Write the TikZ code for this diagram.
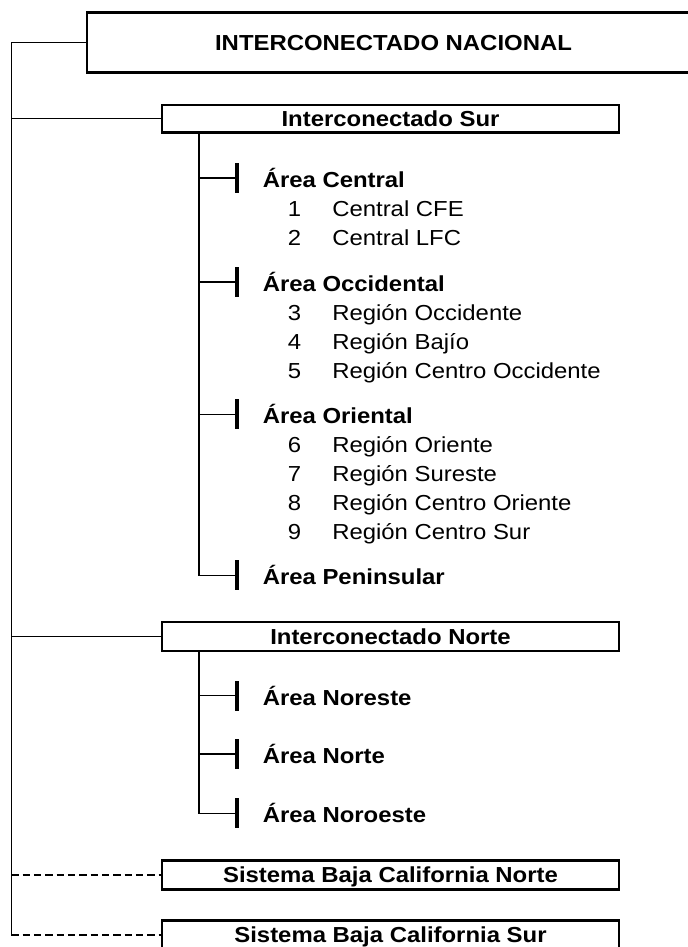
\documentclass[tikz,border=0pt]{standalone}
\usepackage{fontspec}
\setmainfont[FakeStretch=1.1]{Liberation Sans}
\newcommand{\myfs}{\fontsize{16.3pt}{19pt}\selectfont}
\begin{document}
\begin{tikzpicture}[x=0.75pt,y=-0.75pt,
  box/.style={draw, line width=1.9pt, fill=white, inner sep=0pt,
    text height=11.67pt, text depth=0pt, font=\myfs\bfseries},
  conn/.style={line width=1pt},
  dconn/.style={line width=1pt, dash pattern=on 5.5pt off 3pt},
  tickbar/.style={fill=black, draw=none, inner sep=0pt, minimum width=2.4pt, minimum height=22.5pt},
  area/.style={anchor=base west, inner sep=0pt, font=\myfs\bfseries},
  item/.style={anchor=base west, inner sep=0pt, font=\myfs}]
\useasboundingbox (0,0) rectangle (688,947);

% boxes
\node[box, minimum width=459.75pt, minimum height=45pt] (nac) at (393.5,42.5) {INTERCONECTADO NACIONAL};
\node[box, minimum width=342.75pt, minimum height=20.6pt] (sur) at (390.5,118.5) {Interconectado Sur};
\node[box, minimum width=342.75pt, minimum height=22pt] (nor) at (390.5,636.5) {Interconectado Norte};
\node[box, minimum width=342.75pt, minimum height=21.75pt] (bcn) at (390.5,875) {Sistema Baja California Norte};
\node[box, minimum width=342.75pt, minimum height=21.75pt] (bcs) at (390.5,935) {Sistema Baja California Sur};

% main spine
\coordinate (L0) at (11.3,42.5);
\coordinate (L1) at (11.3,935);
\draw[conn] (nac.west) -- (L0) -- (L1);
\draw[conn] (L0 |- sur.west) -- (sur.west);
\draw[conn] (L0 |- nor.west) -- (nor.west);
\draw[dconn] (L0 |- bcn.west) -- (bcn.west);
\draw[dconn] (L1) -- (bcs.west);

% Sur subtree
\coordinate (s0) at (199,132);
\node[tickbar] (ta) at (237,178) {};
\node[tickbar] (tb) at (237,282) {};
\node[tickbar] (tc) at (237,414.2) {};
\node[tickbar] (td) at (237,575.4) {};
\draw[conn] (s0) |- (td.west);
\draw[conn] (s0 |- ta) -- (ta.west);
\draw[conn] (s0 |- tb) -- (tb.west);
\draw[conn] (s0 |- tc) -- (tc.west);

\node[area] (aC) at (262.5,187.5) {Área Central};
\node[item] (n1) at (287.5,216) {1};
\node[item] (i1) at (332,216) {Central CFE};
\node[item] (n2) at (287.5,245) {2};
\node[item] (i2) at (332,245) {Central LFC};

\node[area] (aOc) at (262.5,291.5) {Área Occidental};
\node[item] (n3) at (287.5,320) {3};
\node[item] (i3) at (332,320) {Región Occidente};
\node[item] (n4) at (287.5,349) {4};
\node[item] (i4) at (332,349) {Región Bajío};
\node[item] (n5) at (287.5,378) {5};
\node[item] (i5) at (332,378) {Región Centro Occidente};

\node[area] (aOr) at (262.5,423.7) {Área Oriental};
\node[item] (n6) at (287.5,452) {6};
\node[item] (i6) at (332,452) {Región Oriente};
\node[item] (n7) at (287.5,481) {7};
\node[item] (i7) at (332,481) {Región Sureste};
\node[item] (n8) at (287.5,510) {8};
\node[item] (i8) at (332,510) {Región Centro Oriente};
\node[item] (n9) at (287.5,539) {9};
\node[item] (i9) at (332,539) {Región Centro Sur};

\node[area] (aP) at (262.5,584.9) {Área Peninsular};

% Norte subtree
\coordinate (m0) at (199,651);
\node[tickbar] (te) at (237,695.7) {};
\node[tickbar] (tf) at (237,754) {};
\node[tickbar] (tg) at (237,813.3) {};
\draw[conn] (m0) |- (tg.west);
\draw[conn] (m0 |- te) -- (te.west);
\draw[conn] (m0 |- tf) -- (tf.west);

\node[area] (aNe) at (262.5,705.2) {Área Noreste};
\node[area] (aN) at (262.5,763.5) {Área Norte};
\node[area] (aNo) at (262.5,822.8) {Área Noroeste};
\end{tikzpicture}
\end{document}
